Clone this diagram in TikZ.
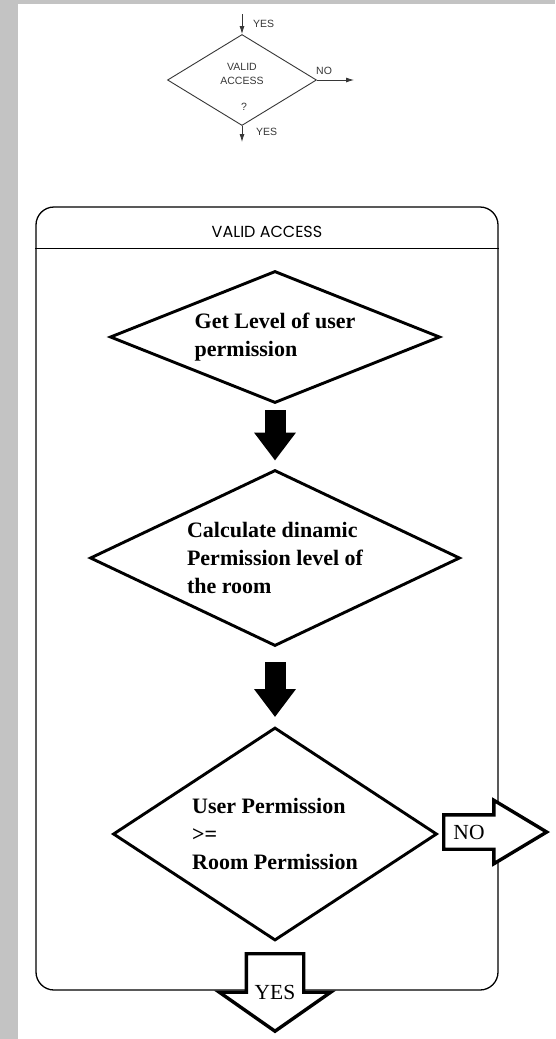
\documentclass[tikz,border=0pt]{standalone}
\usepackage{fontspec}
\setmainfont{Liberation Serif}
\newfontfamily\helv{Liberation Sans}
\newfontfamily\gothic{Poppins}
\usetikzlibrary{shapes.geometric,shapes.arrows,arrows.meta,calc}
\definecolor{bggray}{RGB}{195,195,195}
\definecolor{inkgray}{RGB}{55,55,55}

\begin{document}
\begin{tikzpicture}[x=1pt,y=-1pt,
  dia/.style={draw,diamond,line width=2.9pt,inner sep=0pt,align=left,
    font=\fontsize{22}{28}\selectfont\bfseries},
  fat/.style={line width=21pt,-{Triangle[length=28pt,width=40pt]}},
  blk/.style={draw,fill=white,single arrow,line width=3.4pt},
  txt/.style={font=\fontsize{21.5}{24}\selectfont,inner sep=0pt},
  small/.style={font=\helv\fontsize{10.5}{14}\selectfont,text=inkgray,inner sep=0pt},
  sarr/.style={draw=inkgray,line width=0.8pt,-{Latex[length=8pt,width=5pt]}}]
\useasboundingbox (0,0) rectangle (555,1039);
\fill[bggray] (0,0) rectangle (555,1039);
\fill[white] (18,4) rectangle (555,1039);

% small key at the top
\node[draw=inkgray,diamond,line width=0.9pt,minimum width=149pt,minimum height=91pt,inner sep=0pt] (q) at (242,80) {};
\node[small,align=center] (qtxt) at (242,74) {VALID\\ACCESS};
\node[small] (qmark) at (244,107) {?};
\coordinate (qin) at (242,14);
\coordinate (qyes) at (242,142);
\coordinate (qno) at (354,80);
\draw[sarr] (qin) -- (q.north);
\draw[sarr] (q.south) -- (qyes);
\draw[sarr] (q.east) -- (qno);
\node[small,anchor=west] (yin) at (253,24) {YES};
\node[small,anchor=west] (yout) at (256,132) {YES};
\node[small,anchor=west] (nout) at (316,71) {NO};

% expanded block
\node[draw,rounded corners=18pt,line width=1.3pt,minimum width=462pt,minimum height=783pt] (box) at (267,598.5) {};
\node[font=\gothic\fontsize{16}{18}\selectfont] (title) at (267,232) {VALID ACCESS};
\draw[line width=1.3pt] ([yshift=-42pt]box.north west) -- ([yshift=-42pt]box.north east);

\node[dia,aspect=2.5,minimum width=330pt,minimum height=132pt] (lvl) at (275,337) {Get Level of user\\permission};
\node[dia,aspect=2.1,minimum width=370pt,minimum height=176pt] (perm) at (275,558) {Calculate dinamic\\Permission level of\\the room};
\node[dia,aspect=1.52,minimum width=324pt,minimum height=213pt] (cmp) at (275,834) {User Permission\\>=\\Room Permission};
\draw[fat,shorten <=6pt,shorten >=8pt] (lvl.south) -- (perm.north);
\draw[fat,shorten <=15pt,shorten >=9pt] (perm.south) -- (cmp.north);

\node[blk,inner sep=15.5pt,minimum height=103pt,single arrow head extend=14.5pt,single arrow tip angle=62,anchor=tail] (no) at (442,832) {};
\node[txt] (nol) at ($(no.tail)!0.25!(no.tip)$) {NO};
\node[blk,inner sep=27pt,shape border rotate=270,minimum height=75pt,single arrow head extend=27pt,single arrow tip angle=110,anchor=tail] (yes) at (275,952) {};
\node[txt] (yesl) at ($(yes.tail)!0.5!(yes.tip)$) {YES};
\end{tikzpicture}
\end{document}
